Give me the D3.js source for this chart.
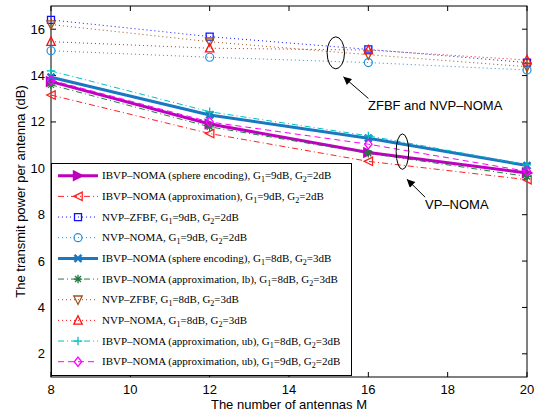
<!DOCTYPE html>
<html><head><meta charset="utf-8">
<script src="https://cdn.jsdelivr.net/npm/d3@7"></script>
<style>
body{margin:0;background:#fff;}
svg{display:block;}
</style></head>
<body>
<svg id="c" width="535" height="417" font-family="'Liberation Sans',Arial,sans-serif"></svg>
<script>
// ---- data ----
const antennas = [8, 12, 16, 20];
const xTicks = [8, 10, 12, 14, 16, 18, 20];
const yTicks = [2, 4, 6, 8, 10, 12, 14, 16];
const sphere92 = [13.74, 11.91, 10.68, 9.80];
const approx92 = [13.16, 11.50, 10.30, 9.51];
const zfbf92   = [16.40, 15.68, 15.13, 14.56];
const nvp92    = [15.07, 14.79, 14.56, 14.24];
const sphere83 = [13.93, 12.30, 11.30, 10.12];
const lb83     = [13.60, 11.79, 10.65, 9.65];
const zfbf83   = [16.20, 15.46, 14.90, 14.38];
const nvp83    = [15.46, 15.18, 15.10, 14.67];
const ub83     = [14.20, 12.44, 11.40, 10.15];
const ub92     = [13.80, 12.00, 11.04, 9.87];
const labels = [
  ["IBVP\u2013NOMA (sphere encoding), G", "1", "=9dB, G", "2", "=2dB"],
  ["IBVP\u2013NOMA (approximation), G", "1", "=9dB, G", "2", "=2dB"],
  ["NVP\u2013ZFBF, G", "1", "=9dB, G", "2", "=2dB"],
  ["NVP\u2013NOMA, G", "1", "=9dB, G", "2", "=2dB"],
  ["IBVP\u2013NOMA (sphere encoding), G", "1", "=8dB, G", "2", "=3dB"],
  ["IBVP\u2013NOMA (approximation, lb), G", "1", "=8dB, G", "2", "=3dB"],
  ["NVP\u2013ZFBF, G", "1", "=8dB, G", "2", "=3dB"],
  ["NVP\u2013NOMA, G", "1", "=8dB, G", "2", "=3dB"],
  ["IBVP\u2013NOMA (approximation, ub), G", "1", "=8dB, G", "2", "=3dB"],
  ["IBVP\u2013NOMA (approximation, ub), G", "1", "=9dB, G", "2", "=2dB"]
];

// ---- styles ----
const styles = [
  {v: sphere92, color: "#bf00bf", w: 3, dash: null, marker: "tri-right", fill: true},
  {v: approx92, color: "#ff2020", w: 1, dash: "6,3,1,3", marker: "tri-left"},
  {v: zfbf92, color: "#1010ff", w: 1, dash: "1,3", marker: "square"},
  {v: nvp92, color: "#1f8fdf", w: 1, dash: "1,3", marker: "circle"},
  {v: sphere83, color: "#1a78c2", w: 3, dash: null, marker: "x"},
  {v: lb83, color: "#1f7a3f", w: 1, dash: "6,3,1,3", marker: "star"},
  {v: zfbf83, color: "#a0501e", w: 1, dash: "1,3", marker: "tri-down"},
  {v: nvp83, color: "#ff1010", w: 1, dash: "1,3", marker: "tri-up"},
  {v: ub83, color: "#00bfbf", w: 1, dash: "6,3,1,3", marker: "plus"},
  {v: ub92, color: "#ff00ff", w: 1, dash: "6,4", marker: "diamond"}
];

const svg = d3.select("#c");
const L = 51, R = 527, T = 6, B = 377;
const x = d3.scaleLinear().domain([8, 20]).range([L, R]);
const y = d3.scaleLinear().domain([1, 17]).range([B, T]);

svg.append("rect").attr("width", 535).attr("height", 417).attr("fill", "#fff");

function marker(g, type, cx, cy, color, w, fill) {
  const s = 4.2;
  let p;
  switch (type) {
    case "tri-right": p = `M${cx-s},${cy-s}L${cx+s},${cy}L${cx-s},${cy+s}Z`; break;
    case "tri-left": p = `M${cx+s},${cy-s}L${cx-s},${cy}L${cx+s},${cy+s}Z`; break;
    case "tri-up": p = `M${cx},${cy-s-0.5}L${cx+s},${cy+s-0.5}L${cx-s},${cy+s-0.5}Z`; break;
    case "tri-down": p = `M${cx},${cy+s+0.5}L${cx+s},${cy-s+0.5}L${cx-s},${cy-s+0.5}Z`; break;
    case "square": p = `M${cx-3.5},${cy-3.5}h7v7h-7Z`; break;
    case "diamond": p = `M${cx},${cy-s-0.5}L${cx+s-0.5},${cy}L${cx},${cy+s+0.5}L${cx-s+0.5},${cy}Z`; break;
    case "plus": p = `M${cx-s},${cy}H${cx+s}M${cx},${cy-s}V${cy+s}`; break;
    case "x": p = `M${cx-3.5},${cy-3.5}L${cx+3.5},${cy+3.5}M${cx-3.5},${cy+3.5}L${cx+3.5},${cy-3.5}`; break;
    case "star": p = `M${cx-s},${cy}H${cx+s}M${cx},${cy-s}V${cy+s}M${cx-3},${cy-3}L${cx+3},${cy+3}M${cx-3},${cy+3}L${cx+3},${cy-3}`; break;
  }
  if (type === "circle") {
    g.append("circle").attr("cx", cx).attr("cy", cy).attr("r", 4)
      .attr("fill", "none").attr("stroke", color).attr("stroke-width", 1.2);
    return;
  }
  g.append("path").attr("d", p)
    .attr("fill", fill ? color : "none")
    .attr("stroke", color)
    .attr("stroke-width", type === "x" ? 2.5 : (w > 1 ? 2 : 1.3))
    .attr("stroke-linejoin", "miter");
}

// axes box and inside ticks
const axG = svg.append("g");
axG.append("rect").attr("x", L).attr("y", T).attr("width", R - L).attr("height", B - T)
  .attr("fill", "none").attr("stroke", "#000").attr("stroke-width", 1);
xTicks.forEach(t => {
  axG.append("line").attr("x1", x(t)).attr("x2", x(t)).attr("y1", B).attr("y2", B - 5).attr("stroke", "#000");
  axG.append("line").attr("x1", x(t)).attr("x2", x(t)).attr("y1", T).attr("y2", T + 5).attr("stroke", "#000");
  axG.append("text").attr("x", x(t)).attr("y", B + 17).attr("text-anchor", "middle")
    .attr("font-size", 13).text(t);
});
yTicks.forEach(t => {
  axG.append("line").attr("x1", L).attr("x2", L + 5).attr("y1", y(t)).attr("y2", y(t)).attr("stroke", "#000");
  axG.append("line").attr("x1", R).attr("x2", R - 5).attr("y1", y(t)).attr("y2", y(t)).attr("stroke", "#000");
  axG.append("text").attr("x", L - 6).attr("y", y(t) + 4.5).attr("text-anchor", "end")
    .attr("font-size", 13).text(t);
});
svg.append("text").attr("x", (L + R) / 2).attr("y", 409).attr("text-anchor", "middle")
  .attr("font-size", 13).text("The number of antennas M");
svg.append("text").attr("transform", `translate(25,${(T + B) / 2}) rotate(-90)`)
  .attr("text-anchor", "middle").attr("font-size", 13).text("The transmit power per antenna (dB)");

// series
const line = d3.line().x((d, i) => x(antennas[i])).y(d => y(d));
const plotG = svg.append("g");
styles.forEach(s => {
  plotG.append("path").datum(s.v).attr("d", line)
    .attr("fill", "none").attr("stroke", s.color).attr("stroke-width", s.w)
    .attr("stroke-dasharray", s.dash);
  s.v.forEach((d, i) => marker(plotG, s.marker, x(antennas[i]), y(d), s.color, s.w, s.fill));
});

// legend
const lg = svg.append("g");
const lx0 = 51, ly0 = 163, lw = 300, lh = 212;
lg.append("rect").attr("x", lx0 + 0.5).attr("y", ly0 + 0.5).attr("width", lw).attr("height", lh)
  .attr("fill", "#fff").attr("stroke", "#000").attr("stroke-width", 1);
styles.forEach((s, i) => {
  const cy = 175.7 + i * 20.67;
  lg.append("line").attr("x1", 58).attr("x2", 98).attr("y1", cy).attr("y2", cy)
    .attr("stroke", s.color).attr("stroke-width", s.w).attr("stroke-dasharray", s.dash);
  marker(lg, s.marker, 78, cy, s.color, s.w, s.fill);
  const t = lg.append("text").attr("x", 102).attr("y", cy + 3.5)
    .style("font-family", "'Liberation Serif','Times New Roman',serif").attr("font-size", 11);
  labels[i].forEach((p, k) => {
    const ts = t.append("tspan").text(p);
    if (k === 1 || k === 3) ts.attr("font-size", 8).attr("dy", 3);
    else if (k > 0) ts.attr("dy", -3);
  });
});

// annotations
const an = svg.append("g");
const defs = svg.append("defs");
defs.append("marker").attr("id", "ah").attr("viewBox", "0 0 10 10").attr("refX", 10).attr("refY", 5)
  .attr("markerWidth", 10).attr("markerHeight", 8).attr("markerUnits", "userSpaceOnUse")
  .attr("orient", "auto").append("path").attr("d", "M0,0L10,5L0,10Z").attr("fill", "#000");
const e1x = x(15.18), e1y = y(14.98);
an.append("ellipse").attr("cx", e1x).attr("cy", e1y).attr("rx", 8.7).attr("ry", 16)
  .attr("fill", "none").attr("stroke", "#000");
an.append("line").attr("x1", e1x + 32.6).attr("y1", e1y + 45.6).attr("x2", e1x + 7.6).attr("y2", e1y + 24)
  .attr("stroke", "#000").attr("marker-end", "url(#ah)");
an.append("text").attr("x", 368).attr("y", 110).attr("font-size", 13).text("ZFBF and NVP\u2013NOMA");
const e2x = x(16.86), e2y = y(10.72);
an.append("ellipse").attr("cx", e2x).attr("cy", e2y).attr("rx", 6.3).attr("ry", 17.7)
  .attr("fill", "none").attr("stroke", "#000");
an.append("line").attr("x1", e2x + 22.7).attr("y1", e2y + 45.6).attr("x2", e2x + 4.4).attr("y2", e2y + 27.6)
  .attr("stroke", "#000").attr("marker-end", "url(#ah)");
an.append("text").attr("x", 425).attr("y", 209).attr("font-size", 13).text("VP\u2013NOMA");
</script>
</body></html>
